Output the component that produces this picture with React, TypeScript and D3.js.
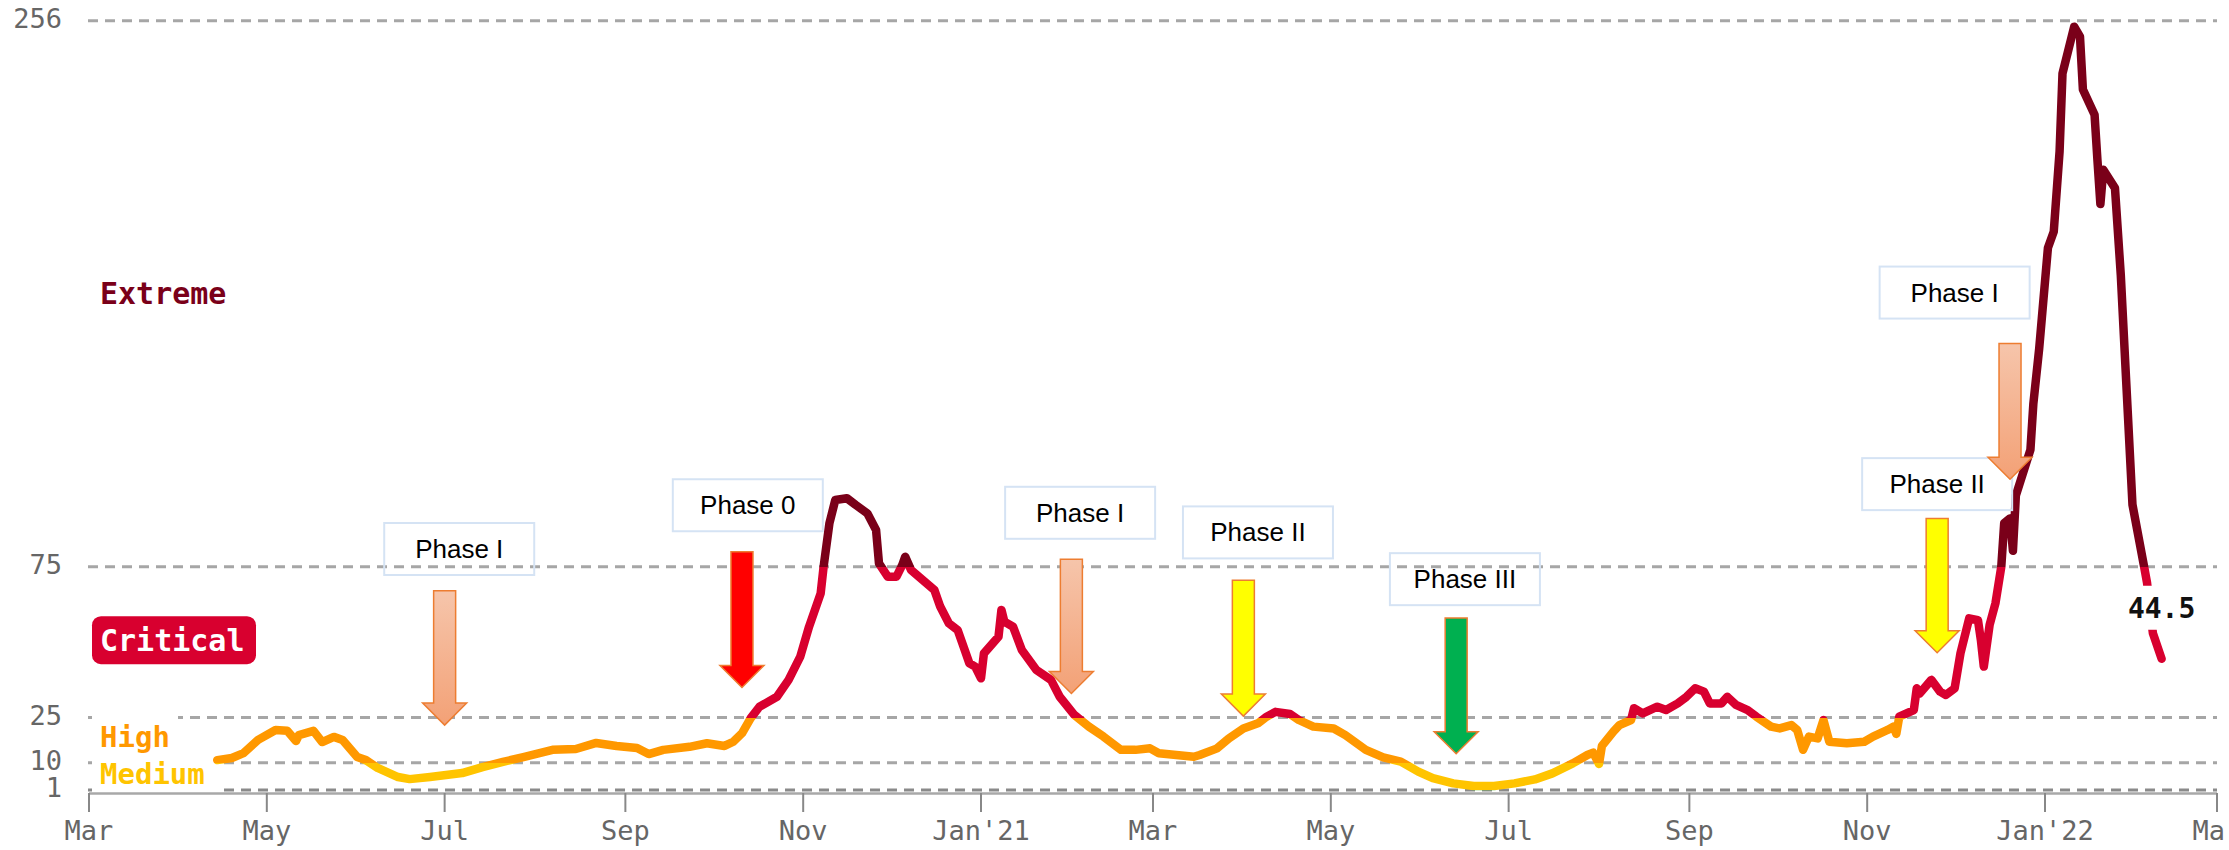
import React from 'react';
import * as d3 from 'd3';

// ---- data ----
const dates = [
  '2020-04-14','2020-04-19','2020-04-23','2020-04-28','2020-05-04','2020-05-08','2020-05-11','2020-05-12','2020-05-17','2020-05-20',
  '2020-05-24','2020-05-27','2020-06-01','2020-06-04','2020-06-08','2020-06-15','2020-06-19','2020-06-26','2020-07-07','2020-07-14',
  '2020-07-21','2020-07-28','2020-08-07','2020-08-15','2020-08-22','2020-08-29','2020-09-05','2020-09-09','2020-09-14','2020-09-23',
  '2020-09-29','2020-10-05','2020-10-08','2020-10-11','2020-10-14','2020-10-17','2020-10-23','2020-10-27','2020-10-31','2020-11-03',
  '2020-11-07','2020-11-08','2020-11-10','2020-11-12','2020-11-16','2020-11-19','2020-11-23','2020-11-26','2020-11-27','2020-11-30',
  '2020-12-03','2020-12-05','2020-12-06','2020-12-08','2020-12-12','2020-12-16','2020-12-18','2020-12-21','2020-12-24','2020-12-26',
  '2020-12-28','2020-12-30','2021-01-01','2021-01-02','2021-01-05','2021-01-07','2021-01-08','2021-01-09','2021-01-12','2021-01-15',
  '2021-01-20','2021-01-25','2021-01-28','2021-02-02','2021-02-07','2021-02-12','2021-02-18','2021-02-23','2021-02-28','2021-03-03',
  '2021-03-09','2021-03-15','2021-03-17','2021-03-23','2021-03-27','2021-04-01','2021-04-06','2021-04-09','2021-04-12','2021-04-17',
  '2021-04-20','2021-04-25','2021-05-02','2021-05-06','2021-05-13','2021-05-19','2021-05-25','2021-05-31','2021-06-05','2021-06-12',
  '2021-06-19','2021-06-26','2021-07-03','2021-07-10','2021-07-16','2021-07-23','2021-07-28','2021-07-30','2021-08-01','2021-08-02',
  '2021-08-06','2021-08-08','2021-08-12','2021-08-13','2021-08-16','2021-08-21','2021-08-24','2021-08-28','2021-08-31','2021-09-03',
  '2021-09-06','2021-09-08','2021-09-12','2021-09-14','2021-09-17','2021-09-21','2021-09-24','2021-09-29','2021-10-02','2021-10-06',
  '2021-10-08','2021-10-10','2021-10-12','2021-10-15','2021-10-17','2021-10-19','2021-10-25','2021-10-31','2021-11-03','2021-11-08',
  '2021-11-10','2021-11-11','2021-11-12','2021-11-17','2021-11-18','2021-11-19','2021-11-23','2021-11-26','2021-11-28','2021-12-01',
  '2021-12-03','2021-12-06','2021-12-09','2021-12-10','2021-12-11','2021-12-13','2021-12-15','2021-12-17','2021-12-18','2021-12-20',
  '2021-12-21','2021-12-22','2021-12-27','2021-12-28','2021-12-30','2022-01-02','2022-01-04','2022-01-06','2022-01-07','2022-01-11',
  '2022-01-13','2022-01-14','2022-01-18','2022-01-19','2022-01-20','2022-01-21','2022-01-25','2022-01-27','2022-01-29','2022-01-31',
  '2022-02-04','2022-02-05','2022-02-07','2022-02-10',
];
const values = [
  10.9, 11.6, 13.2, 17.6, 20.9, 20.6, 17.2, 19.2, 20.6, 16.9,
  18.6, 17.6, 11.9, 10.9, 8.3, 5.3, 4.6, 5.3, 6.6, 8.6,
  10.3, 11.9, 14.3, 14.6, 16.6, 15.6, 14.9, 12.9, 14.3, 15.3,
  16.5, 15.6, 17.0, 19.8, 24.8, 28.6, 31.9, 37.5, 45.2, 55.1,
  66.2, 75.0, 89.4, 97.1, 97.7, 95.5, 92.7, 87.2, 76.1, 71.7,
  71.7, 75.6, 78.3, 73.9, 70.6, 67.3, 61.8, 56.2, 54.0, 48.5,
  43.0, 41.9, 38.0, 46.3, 49.6, 51.8, 60.7, 56.8, 55.1, 47.4,
  40.8, 37.5, 31.9, 25.9, 22.0, 18.7, 14.3, 14.3, 14.8, 13.2,
  12.6, 12.0, 12.6, 14.8, 18.1, 21.4, 23.1, 25.3, 26.9, 26.2,
  24.2, 22.0, 21.4, 19.2, 14.3, 11.8, 10.4, 7.1, 4.9, 3.2,
  2.3, 2.3, 3.2, 4.5, 6.5, 9.8, 12.6, 13.4, 9.6, 15.6,
  20.4, 22.5, 24.2, 28.1, 26.4, 28.6, 27.5, 29.7, 31.9, 34.7,
  33.6, 29.7, 29.7, 31.9, 29.2, 27.5, 25.3, 22.0, 21.4, 22.5,
  20.9, 14.3, 18.7, 18.1, 24.2, 17.0, 16.5, 17.0, 18.7, 20.9,
  22.0, 19.6, 25.3, 27.5, 34.7, 33.0, 37.5, 33.6, 32.5, 34.7,
  46.3, 57.9, 57.3, 50.7, 41.9, 55.7, 62.9, 75.0, 89.5, 91.0,
  80.3, 98.6, 113.8, 129.0, 147.3, 180.7, 186.1, 212.7, 238.5, 254.0,
  250.7, 233.2, 224.8, 209.6, 195.2, 206.6, 200.5, 171.6, 133.6, 95.6,
  75.0, 69.7, 53.0, 44.5,
];

const yTicks = [1, 10, 25, 75, 256];
const xTickDates = ['2020-03-01','2020-05-01','2020-07-01','2020-09-01','2020-11-01','2021-01-01','2021-03-01',
  '2021-05-01','2021-07-01','2021-09-01','2021-11-01','2022-01-01','2022-03-01'];
const xTickLabels = ['Mar','May','Jul','Sep','Nov',"Jan'21",'Mar','May','Jul','Sep','Nov',"Jan'22",'Mar'];

// risk levels: name, lower bound, upper bound
const levelNames = ['Medium', 'High', 'Critical', 'Extreme'];
const levelLow = [1, 10, 25, 75];
const levelHigh = [10, 25, 75, 256];

// phase annotations (data coordinates)
const phaseLabels = ['Phase I','Phase 0','Phase I','Phase II','Phase III','Phase II','Phase I'];
const phaseArrowDates = ['2020-07-01','2020-10-11','2021-02-01','2021-04-01','2021-06-13','2021-11-25','2021-12-20'];
const phaseArrowTips = [22.5, 35, 33, 25.5, 13, 46.5, 104];
const phaseArrowTops = [67, 80, 77.5, 70.5, 58, 91, 149];
const phaseBoxDates = ['2020-07-06','2020-10-13','2021-02-04','2021-04-06','2021-06-16','2021-11-25','2021-12-01'];
const phaseBoxTops = [89.5, 104, 101.5, 95, 79.5, 111, 174.5];
const phaseKinds = ['salmon','red','salmon','yellow','green','yellow','salmon'];

const MONO = '"DejaVu Sans Mono", monospace';
const SANS = '"Liberation Sans", Arial, sans-serif';

const COLORS: Record<string, string> = {
  Low: '#6cbf3c',
  Medium: '#ffc400',
  High: '#ff9800',
  Critical: '#d8002f',
  Extreme: '#7a0019',
};
const ARROW_FILL: Record<string, string> = {
  salmon: 'url(#salmonGrad)',
  red: '#ff0000',
  yellow: '#ffff00',
  green: '#00b050',
};

export default function App() {
  const parse = d3.timeParse('%Y-%m-%d');
  const x = d3.scaleTime()
    .domain([parse('2020-03-01') as Date, parse('2022-03-01') as Date])
    .range([89, 2217]);
  const y = d3.scaleLinear().domain([0, 256]).range([793, 20.7]);

  const data = dates.map((d, i) => ({ date: parse(d) as Date, value: values[i] }));
  const line = d3.line<{ date: Date; value: number }>()
    .x(d => x(d.date))
    .y(d => y(d.value))
    .curve(d3.curveLinear);

  const [x0, x1] = x.range();
  const t = (v: number) => v / 256;

  const last = data[data.length - 1];
  const lastX = x(last.date);
  const lastY = y(last.value);

  const arrowPath = (cx: number, top: number, tip: number) => {
    const sh = 11, hh = 22, hl = 22;
    return `M${cx - sh},${top}L${cx + sh},${top}L${cx + sh},${tip - hl}L${cx + hh},${tip - hl}L${cx},${tip}L${cx - hh},${tip - hl}L${cx - sh},${tip - hl}Z`;
  };

  return (
    <svg width={2229} height={850} style={{ position: 'absolute', left: 0, top: 0, background: '#fff' }}>
      <defs>
        <linearGradient id="levelGrad" gradientUnits="userSpaceOnUse" x1={0} x2={0} y1={y(0)} y2={y(256)}>
          <stop offset={0} stopColor={COLORS.Low} />
          <stop offset={t(1)} stopColor={COLORS.Low} />
          <stop offset={t(1)} stopColor={COLORS.Medium} />
          <stop offset={t(10)} stopColor={COLORS.Medium} />
          <stop offset={t(10)} stopColor={COLORS.High} />
          <stop offset={t(25)} stopColor={COLORS.High} />
          <stop offset={t(25)} stopColor={COLORS.Critical} />
          <stop offset={t(75)} stopColor={COLORS.Critical} />
          <stop offset={t(75)} stopColor={COLORS.Extreme} />
          <stop offset={1} stopColor={COLORS.Extreme} />
        </linearGradient>
        <linearGradient id="salmonGrad" x1={0} x2={0} y1={0} y2={1}>
          <stop offset={0} stopColor="#f6c5ab" />
          <stop offset={1} stopColor="#f3a176" />
        </linearGradient>
      </defs>

      {/* grid lines */}
      {yTicks.map(v => (
        <line key={'g' + v} x1={x0 - 1} x2={x1} y1={y(v)} y2={y(v)}
          stroke={v === 1 ? '#8a8a8a' : '#a6a6a6'} strokeWidth={3} strokeDasharray="10 7" />
      ))}

      {/* y tick labels */}
      {yTicks.map(v => (
        <text key={'yl' + v} x={62} y={y(v) + 7.5} textAnchor="end" fontFamily={MONO} fontSize={27} fill="#666">{v}</text>
      ))}

      {/* level labels */}
      {levelNames.map((name, i) => {
        const mid = (levelLow[i] + levelHigh[i]) / 2;
        const cy = y(mid);
        if (name === 'Critical') {
          return (
            <g key={name}>
              <rect x={92} y={cy - 26} width={164} height={48} rx={9} fill={COLORS.Critical} />
              <text x={100} y={cy + 9} fontFamily={MONO} fontWeight="bold" fontSize={30} fill="#fff">{name}</text>
            </g>
          );
        }
        if (name === 'Extreme') {
          return (
            <text key={name} x={100} y={cy + 10} fontFamily={MONO} fontWeight="bold" fontSize={30} fill={COLORS.Extreme}>{name}</text>
          );
        }
        if (name === 'High') {
          return (
            <g key={name}>
              <rect x={92} y={y(levelHigh[i]) - 3} width={86} height={y(levelLow[i]) - y(levelHigh[i]) - 2} fill="#fff" />
              <text x={100} y={cy + 7} fontFamily={MONO} fontWeight="bold" fontSize={29} fill={COLORS.High}>{name}</text>
            </g>
          );
        }
        return (
          <g key={name}>
            <rect x={92} y={y(levelHigh[i]) - 3} width={129} height={y(0) - y(levelHigh[i]) + 3} fill="#fff" />
            <text x={100} y={cy + 8} fontFamily={MONO} fontWeight="bold" fontSize={29} fill={COLORS.Medium}>{name}</text>
          </g>
        );
      })}

      {/* x axis */}
      <line x1={x0} x2={x1} y1={y(0) + 0.5} y2={y(0) + 0.5} stroke="#a8a8a8" strokeWidth={2.5} />
      {xTickDates.map((d, i) => {
        const px = x(parse(d) as Date);
        return (
          <g key={'xt' + i}>
            <line x1={px} x2={px} y1={y(0)} y2={y(0) + 19} stroke="#888" strokeWidth={2} />
            <text x={px} y={840} textAnchor="middle" fontFamily={MONO} fontSize={27} fill="#666">{xTickLabels[i]}</text>
          </g>
        );
      })}

      {/* data line */}
      <path d={line(data) || ''} fill="none" stroke="url(#levelGrad)" strokeWidth={8.5}
        strokeLinejoin="round" strokeLinecap="round" />

      {/* last value label */}
      <rect x={lastX - 42} y={lastY - 73} width={84} height={44} fill="#fff" />
      <text x={lastX} y={lastY - 41} textAnchor="middle" fontFamily={MONO} fontWeight="bold" fontSize={28} fill="#111">{last.value}</text>

      {/* phase annotations */}
      {phaseLabels.map((lab, i) => {
        const bx = x(parse(phaseBoxDates[i]) as Date);
        const by = y(phaseBoxTops[i]);
        const ax = x(parse(phaseArrowDates[i]) as Date);
        return (
          <g key={'ph' + i}>
            <rect x={bx - 75} y={by} width={150} height={52} fill="none" stroke="#d5e3f4" strokeWidth={2} />
            <text x={bx} y={by + 35} textAnchor="middle" fontFamily={SANS} fontSize={26} fill="#000">{lab}</text>
            <path d={arrowPath(ax, y(phaseArrowTops[i]), y(phaseArrowTips[i]))}
              fill={ARROW_FILL[phaseKinds[i]]} stroke="#ed7d31" strokeWidth={1.5} />
          </g>
        );
      })}
    </svg>
  );
}
